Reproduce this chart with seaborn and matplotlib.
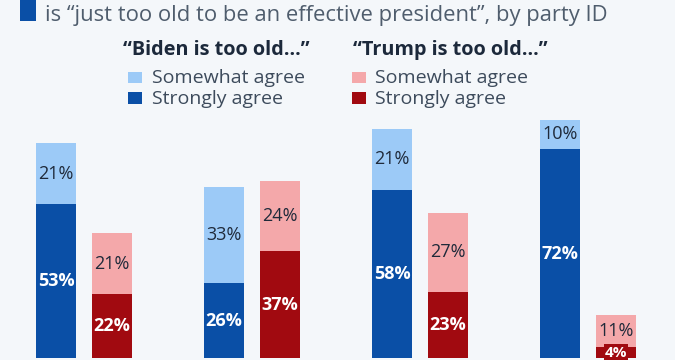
import matplotlib
matplotlib.use("Agg")
import matplotlib.pyplot as plt
import seaborn as sns
import pandas as pd
from matplotlib.patches import Rectangle

# ---- data ----
parties = ["All adults", "Democrats", "Independents", "Republicans"]
biden_strong = [53, 26, 58, 72]
biden_somewhat = [21, 33, 21, 10]
trump_strong = [22, 37, 23, 4]
trump_somewhat = [21, 24, 27, 11]

subtitle = "is \u201cjust too old to be an effective president\u201d, by party ID"
legend_titles = ["\u201cBiden is too old...\u201d", "\u201cTrump is too old...\u201d"]
legend_labels = ["Somewhat agree", "Strongly agree"]
who_order = ["Biden", "Trump"]

# ---- style ----
BG = "#f4f7fa"
LIGHT = {"Biden": "#9ccaf7", "Trump": "#f4a8aa"}
DARK = {"Biden": "#0a4fa6", "Trump": "#a10a10"}
TITLE_C = "#4f5d6d"
LEG_TITLE_C = "#1c293b"
LEG_TEXT_C = "#3d4b5c"
LABEL_C = "#1f2a3a"

rows = []
for i, p in enumerate(parties):
    rows.append(dict(party=p, who="Biden", strong=biden_strong[i], somewhat=biden_somewhat[i]))
    rows.append(dict(party=p, who="Trump", strong=trump_strong[i], somewhat=trump_somewhat[i]))
df = pd.DataFrame(rows)
df["total"] = df["strong"] + df["somewhat"]

sns.set_theme(style="white")
plt.rcParams["font.family"] = ["Open Sans", "DejaVu Sans"]

fig = plt.figure(figsize=(6.75, 3.6), dpi=100, facecolor=BG)
ax = fig.add_axes([0, 0, 1, 1])
ax.set_facecolor(BG)

common = dict(data=df, x="party", hue="who", order=parties, hue_order=who_order,
              width=0.667, gap=0.286, dodge=True, ax=ax, legend=False,
              linewidth=0, saturation=1, errorbar=None)
sns.barplot(y="total", palette=LIGHT, **common)
sns.barplot(y="strong", palette=DARK, **common)

ax.set_xlim(-0.5, 3.518)
ax.set_ylim(-0.52, 123.2)
ax.axis("off")

series = {"Biden": (biden_strong, biden_somewhat), "Trump": (trump_strong, trump_somewhat)}
for j, who in enumerate(who_order):
    strong, somewhat = series[who]
    for bar, s, w in zip(ax.containers[j], strong, somewhat):
        x = bar.get_x() + bar.get_width() / 2
        ax.text(x, s + w / 2, f"{w}%", ha="center", va="center", color=LABEL_C, fontsize=13)
        small = s < 8
        ax.text(x, s / 2, f"{s}%", ha="center", va="center", color="white",
                fontsize=11 if small else 13, fontweight="bold",
                bbox=dict(boxstyle="square,pad=0.08", fc=DARK[who], ec="none"))

W, H = 675.0, 360.0
def fx(px):
    return px / W
def fy(py):
    return 1 - py / H

# title marker + subtitle line
fig.patches.append(Rectangle((fx(20), fy(21)), 16 / W, 21 / H, transform=fig.transFigure,
                             fc=DARK["Biden"], ec="none"))
fig.text(fx(45), fy(21), subtitle, ha="left", va="baseline", fontsize=15.8, color=TITLE_C)

# legend
for (tx, sx, lx), who, ttl in zip([(123, 128, 152), (353, 352, 375)], who_order, legend_titles):
    fig.text(fx(tx), fy(55), ttl, ha="left", va="baseline", fontsize=14.3,
             fontweight="bold", color=LEG_TITLE_C)
    for (top, bot, base), col, lab in zip([(72, 83, 83), (92, 104, 104)],
                                          [LIGHT[who], DARK[who]], legend_labels):
        fig.patches.append(Rectangle((fx(sx), fy(bot)), 14 / W, (bot - top) / H,
                                     transform=fig.transFigure, fc=col, ec="none"))
        fig.text(fx(lx), fy(base), lab, ha="left", va="baseline", fontsize=14, color=LEG_TEXT_C)

fig.savefig("out.png", dpi=100, facecolor=BG)
